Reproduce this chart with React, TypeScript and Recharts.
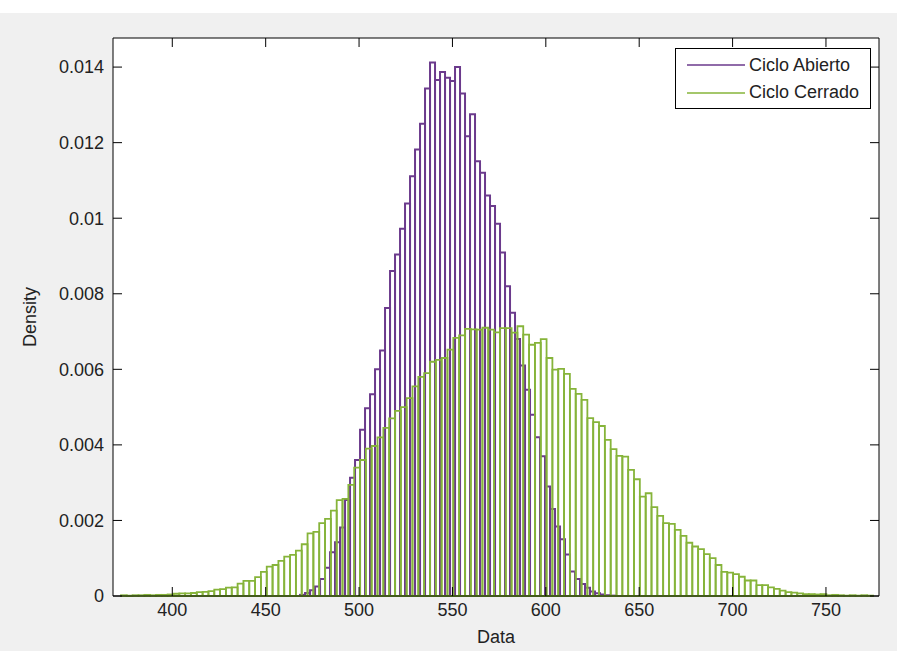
import React from 'react';
import { ComposedChart, XAxis, YAxis, ReferenceArea } from 'recharts';

const xTicks = [400, 450, 500, 550, 600, 650, 700, 750];
const yTicks = [0, 0.002, 0.004, 0.006, 0.008, 0.01, 0.012, 0.014];
const seriesNames = ['Ciclo Abierto', 'Ciclo Cerrado'];

// Ciclo Abierto histogram: first bin edge, bin width, density per bin
const abiertoStart = 468.4;
const abiertoWidth = 2.677;
const abiertoDensity = [
  0.00003, 0.00008, 0.00015, 0.00025, 0.00045, 0.00075, 0.00116, 0.00142, 0.00181, 0.00254,
  0.00313, 0.0036, 0.0044, 0.00497, 0.00534, 0.006, 0.0065, 0.00762, 0.0086, 0.00904,
  0.00972, 0.01039, 0.01111, 0.01182, 0.0125, 0.01343, 0.01412, 0.01366, 0.01387, 0.01372,
  0.01363, 0.014, 0.0133, 0.01217, 0.01275, 0.01151, 0.0112, 0.0106, 0.01032, 0.00985,
  0.00909, 0.0082, 0.0075, 0.0068, 0.0061, 0.00546, 0.0048, 0.0042, 0.0037, 0.0029,
  0.0023, 0.00184, 0.0015, 0.0011, 0.00065, 0.00045, 0.00032, 0.00022, 0.00012, 0.00007,
  0.00004, 0.00002, 0.00001,
];

// Ciclo Cerrado histogram
const cerradoStart = 372.53;
const cerradoWidth = 3.1215;
const cerradoDensity = [
  0.00002, 0.00001, 0.00002, 0.00002, 0.00003, 0.00002, 0.00003, 0.00003, 0.00004, 0.00006,
  0.00007, 0.00007, 0.00008, 0.0001, 0.00011, 0.00013, 0.00017, 0.00018, 0.00022, 0.00023,
  0.00033, 0.0004, 0.0004, 0.0005, 0.00064, 0.00078, 0.00082, 0.00093, 0.00104, 0.00109,
  0.0012, 0.00137, 0.00166, 0.0017, 0.00193, 0.00204, 0.00226, 0.00254, 0.00257, 0.00294,
  0.0034, 0.0036, 0.0039, 0.00397, 0.0042, 0.00445, 0.0047, 0.0049, 0.005, 0.00524,
  0.00555, 0.0058, 0.0059, 0.0062, 0.00625, 0.0063, 0.00652, 0.00683, 0.0069, 0.00707,
  0.00706, 0.00705, 0.0071, 0.00705, 0.00698, 0.00709, 0.00709, 0.00697, 0.00714, 0.00692,
  0.00665, 0.0067, 0.0068, 0.0063, 0.00599, 0.00601, 0.00588, 0.00548, 0.00535, 0.00519,
  0.00471, 0.0046, 0.0045, 0.00413, 0.00389, 0.00371, 0.00369, 0.00334, 0.00309, 0.00263,
  0.00272, 0.00235, 0.00212, 0.00193, 0.00191, 0.00175, 0.00159, 0.00141, 0.00131, 0.00124,
  0.00111, 0.001, 0.00082, 0.00064, 0.00062, 0.00058, 0.00051, 0.00041, 0.00041, 0.00029,
  0.00029, 0.00023, 0.00019, 0.00014, 0.0001, 0.00009, 0.00007, 0.00005, 0.00005, 0.00004,
  0.00005, 0.00002, 0.00003, 0.00002, 0.00001, 0.00002, 0.00001, 0.00002, 0.00001,
];

const X_DOMAIN: [number, number] = [368.25, 778.4];
const Y_DOMAIN: [number, number] = [0, 0.01477];

const PURPLE = '#6b3a8c';
const GREEN = '#86b43a';
const FONT = '"Liberation Sans", Arial, sans-serif';

const toBins = (start: number, width: number, values: number[]) =>
  values.map((v, i) => ({ x1: start + i * width, x2: start + (i + 1) * width, y: v }));

const fmtY = (v: number) => String(Number(v.toFixed(3)));
const noLabel = () => <g />;

export default function App() {
  const abierto = toBins(abiertoStart, abiertoWidth, abiertoDensity);
  const cerrado = toBins(cerradoStart, cerradoWidth, cerradoDensity);
  const tickStyle = { fontSize: 18, fontFamily: FONT, fill: '#222' };

  return (
    <div style={{ position: 'fixed', left: 0, top: 0, width: 903, height: 651, background: '#fff' }}>
      <div style={{ position: 'absolute', left: 0, top: 13, width: 897, height: 638, background: '#f0f0f0' }} />
      <ComposedChart
        width={903}
        height={651}
        margin={{ top: 37, right: 23, bottom: 5, left: 13 }}
        style={{ position: 'absolute', left: 0, top: 0 }}
      >
        <XAxis
          xAxisId="b"
          type="number"
          dataKey="x"
          domain={X_DOMAIN}
          ticks={xTicks}
          allowDataOverflow
          height={50}
          tickSize={-9}
          tickMargin={16}
          axisLine={{ stroke: '#000' }}
          tickLine={{ stroke: '#000' }}
          tick={tickStyle}
          label={{ value: 'Data', position: 'insideBottom', offset: 3, style: { fontSize: 18, fontFamily: FONT, fill: '#222' } }}
        />
        <XAxis
          xAxisId="t"
          orientation="top"
          type="number"
          dataKey="x"
          domain={X_DOMAIN}
          ticks={xTicks}
          allowDataOverflow
          height={1}
          tickSize={-9}
          axisLine={{ stroke: '#000' }}
          tickLine={{ stroke: '#000' }}
          tick={noLabel}
        />
        <YAxis
          yAxisId="l"
          type="number"
          domain={Y_DOMAIN}
          ticks={yTicks}
          allowDataOverflow
          width={100}
          tickSize={-9}
          tickMargin={18}
          tickFormatter={fmtY}
          axisLine={{ stroke: '#000' }}
          tickLine={{ stroke: '#000' }}
          tick={tickStyle}
          label={{
            value: 'Density',
            angle: -90,
            position: 'insideLeft',
            offset: 17,
            style: { fontSize: 18, fontFamily: FONT, fill: '#222', textAnchor: 'middle' },
          }}
        />
        <YAxis
          yAxisId="r"
          orientation="right"
          type="number"
          domain={Y_DOMAIN}
          ticks={yTicks}
          allowDataOverflow
          width={1}
          tickSize={-9}
          axisLine={{ stroke: '#000' }}
          tickLine={{ stroke: '#000' }}
          tick={noLabel}
        />
        <ReferenceArea
          xAxisId="b"
          yAxisId="l"
          x1={X_DOMAIN[0]}
          x2={X_DOMAIN[1]}
          y1={Y_DOMAIN[0]}
          y2={Y_DOMAIN[1]}
          fill="#fff"
          fillOpacity={1}
          stroke="none"
        />
        {abierto.map((b, i) => (
          <ReferenceArea
            key={'a' + i}
            xAxisId="b"
            yAxisId="l"
            x1={b.x1}
            x2={b.x2}
            y1={0}
            y2={b.y}
            fill="none"
            stroke={PURPLE}
            strokeWidth={2}
          />
        ))}
        {cerrado.map((b, i) => (
          <ReferenceArea
            key={'c' + i}
            xAxisId="b"
            yAxisId="l"
            x1={b.x1}
            x2={b.x2}
            y1={0}
            y2={b.y}
            fill="none"
            stroke={GREEN}
            strokeWidth={1.8}
          />
        ))}
      </ComposedChart>
      <div
        style={{
          position: 'absolute',
          left: 675,
          top: 48,
          width: 194,
          height: 59,
          border: '1px solid #000',
          background: '#fff',
          fontFamily: FONT,
          fontSize: 18,
          color: '#222',
        }}
      >
        {seriesNames.map((name, i) => (
          <div key={name} style={{ position: 'absolute', left: 11, top: 5 + i * 27.5, height: 22, display: 'flex', alignItems: 'center' }}>
            <svg width={60} height={22}>
              <line x1={0} x2={58} y1={11} y2={11} stroke={i === 0 ? PURPLE : GREEN} strokeWidth={1.5} />
            </svg>
            <span style={{ marginLeft: 2, whiteSpace: 'nowrap' }}>{name}</span>
          </div>
        ))}
      </div>
    </div>
  );
}
